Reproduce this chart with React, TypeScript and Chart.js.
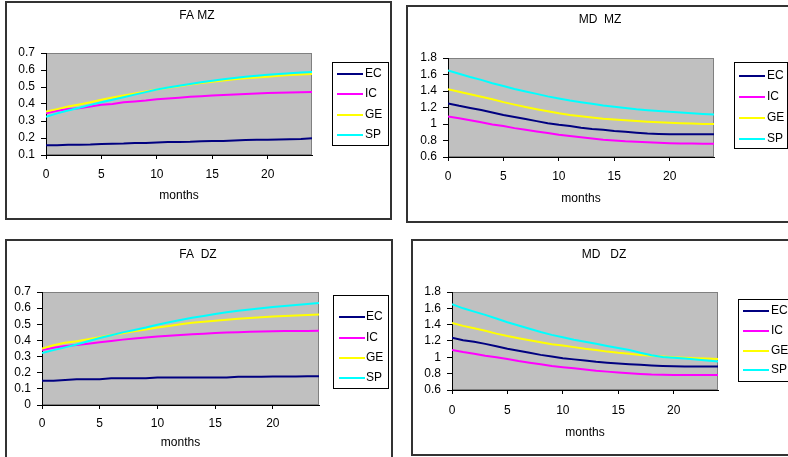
import React, { useEffect, useRef } from "react";
import { Chart, registerables } from "chart.js";

Chart.register(...registerables);

// ---------- data ----------
const months = [0, 1, 2, 3, 4, 5, 6, 7, 8, 9, 10, 11, 12, 13, 14, 15, 16, 17, 18, 19, 20, 21, 22, 23, 24];
const seriesNames = ["EC", "IC", "GE", "SP"];
const seriesColors = ["#000080", "#ff00ff", "#ffff00", "#00ffff"];
const panelTitles = ["FA MZ", "MD  MZ", "FA  DZ", "MD   DZ"];
const axisTitle = "months";

// FA MZ
const faMzEC = [0.157, 0.157, 0.16, 0.161, 0.162, 0.165, 0.166, 0.167, 0.17, 0.171, 0.173, 0.176, 0.177, 0.178, 0.181, 0.182, 0.183, 0.185, 0.188, 0.189, 0.19, 0.191, 0.192, 0.194, 0.199];
const faMzIC = [0.345, 0.36, 0.37, 0.375, 0.385, 0.395, 0.4, 0.41, 0.415, 0.42, 0.428, 0.433, 0.437, 0.442, 0.446, 0.45, 0.453, 0.456, 0.459, 0.462, 0.464, 0.466, 0.468, 0.469, 0.47];
const faMzGE = [0.355, 0.37, 0.385, 0.397, 0.41, 0.425, 0.438, 0.45, 0.462, 0.473, 0.485, 0.495, 0.505, 0.514, 0.523, 0.531, 0.538, 0.545, 0.551, 0.556, 0.561, 0.566, 0.57, 0.573, 0.576];
const faMzSP = [0.325, 0.345, 0.362, 0.378, 0.395, 0.41, 0.425, 0.44, 0.455, 0.47, 0.485, 0.497, 0.508, 0.518, 0.528, 0.537, 0.545, 0.553, 0.56, 0.566, 0.572, 0.577, 0.581, 0.585, 0.588];

// MD MZ
const mdMzEC = [1.25, 1.22, 1.195, 1.17, 1.14, 1.11, 1.085, 1.06, 1.035, 1.01, 0.99, 0.975, 0.955, 0.94, 0.93, 0.915, 0.905, 0.895, 0.885, 0.88, 0.875, 0.875, 0.875, 0.875, 0.875];
const mdMzIC = [1.09, 1.07, 1.045, 1.02, 0.995, 0.975, 0.95, 0.93, 0.91, 0.89, 0.87, 0.855, 0.84, 0.825, 0.81, 0.8, 0.79, 0.785, 0.778, 0.772, 0.768, 0.765, 0.763, 0.762, 0.76];
const mdMzGE = [1.42, 1.39, 1.36, 1.33, 1.3, 1.265, 1.235, 1.205, 1.18, 1.155, 1.13, 1.11, 1.095, 1.08, 1.065, 1.055, 1.045, 1.035, 1.027, 1.02, 1.015, 1.01, 1.005, 1.0, 1.0];
const mdMzSP = [1.65, 1.61, 1.57, 1.535, 1.495, 1.46, 1.425, 1.395, 1.365, 1.335, 1.31, 1.285, 1.265, 1.245, 1.225, 1.21, 1.195, 1.18, 1.168, 1.158, 1.148, 1.14, 1.13, 1.122, 1.115];

// FA DZ
const faDzEC = [0.15, 0.15, 0.155, 0.16, 0.16, 0.16, 0.165, 0.165, 0.165, 0.165, 0.17, 0.17, 0.17, 0.17, 0.17, 0.17, 0.17, 0.175, 0.175, 0.175, 0.176, 0.176, 0.177, 0.178, 0.178];
const faDzIC = [0.34, 0.355, 0.365, 0.372, 0.38, 0.388, 0.397, 0.405, 0.412, 0.418, 0.424, 0.429, 0.434, 0.438, 0.442, 0.446, 0.449, 0.451, 0.453, 0.455, 0.457, 0.458, 0.458, 0.459, 0.46];
const faDzGE = [0.35, 0.37, 0.385, 0.395, 0.408, 0.42, 0.433, 0.445, 0.457, 0.468, 0.48, 0.49, 0.5, 0.509, 0.516, 0.522, 0.528, 0.534, 0.539, 0.544, 0.548, 0.552, 0.555, 0.558, 0.56];
const faDzSP = [0.322, 0.34, 0.357, 0.375, 0.395, 0.415, 0.432, 0.45, 0.465, 0.48, 0.497, 0.512, 0.526, 0.54, 0.552, 0.564, 0.574, 0.584, 0.592, 0.6, 0.607, 0.614, 0.62, 0.626, 0.632];

// MD DZ
const mdDzEC = [1.24, 1.21, 1.19, 1.165, 1.135, 1.105, 1.08, 1.055, 1.03, 1.01, 0.99, 0.975, 0.96, 0.945, 0.935, 0.925, 0.915, 0.908, 0.9, 0.895, 0.89, 0.888, 0.887, 0.887, 0.887];
const mdDzIC = [1.09, 1.065, 1.045, 1.02, 1.0, 0.98, 0.955, 0.935, 0.915, 0.895, 0.88, 0.865, 0.85, 0.835, 0.825, 0.815, 0.805, 0.797, 0.79, 0.787, 0.785, 0.785, 0.785, 0.785, 0.785];
const mdDzGE = [1.42, 1.385, 1.355, 1.325, 1.29, 1.26, 1.235, 1.21, 1.185, 1.16, 1.145, 1.125, 1.105, 1.09, 1.07, 1.055, 1.045, 1.03, 1.02, 1.01, 1.0, 0.995, 0.99, 0.985, 0.98];
const mdDzSP = [1.65, 1.6, 1.56, 1.52, 1.475, 1.43, 1.39, 1.35, 1.31, 1.275, 1.245, 1.215, 1.19, 1.165, 1.14, 1.115, 1.09, 1.055, 1.025, 1.005, 0.995, 0.985, 0.972, 0.96, 0.95];

const faYRange = [0.1, 0.7, 0.1];
const faDzYRange = [0, 0.7, 0.1];
const mdYRange = [0.6, 1.8, 0.2];
const xRange = [0, 24, 5];

// ---------- layout ----------
const BORDER = 2;
const FONT = "'Liberation Sans', Arial, Helvetica, sans-serif";
const FONT_SIZE = 12;

type Box = { left: number; top: number; width: number; height: number };
type PanelCfg = {
  title: string;
  series: number[][];
  yRange: number[];
  box: Box;
  pad: { left: number; right: number; top: number; bottom: number };
  yAxisWidth: number;
  xTickPad: number;
  xTitlePad: number;
  titlePos: [number, number]; // page coords
  legend: { x: number; y: number; w: number; h: number; y0: number; dy: number; l0: number; l1: number; tx: number }; // page coords
};

const panels: PanelCfg[] = [
  {
    title: panelTitles[0],
    series: [faMzEC, faMzIC, faMzGE, faMzSP],
    yRange: faYRange,
    box: { left: 5, top: 1, width: 387, height: 219 },
    pad: { left: 4, right: 78, top: 50, bottom: 13 },
    yAxisWidth: 35,
    xTickPad: 8.9,
    xTitlePad: 2.2,
    titlePos: [197, 16],
    legend: { x: 332, y: 62, w: 56, h: 83, y0: 73.5, dy: 20.6, l0: 337, l1: 363, tx: 365 },
  },
  {
    title: panelTitles[1],
    series: [mdMzEC, mdMzIC, mdMzGE, mdMzSP],
    yRange: mdYRange,
    box: { left: 406, top: 5, width: 400, height: 218 },
    pad: { left: 5, right: 90, top: 51, bottom: 14 },
    yAxisWidth: 35,
    xTickPad: 8,
    xTitlePad: 0.9,
    titlePos: [600, 20],
    legend: { x: 734, y: 62, w: 53, h: 86, y0: 75.5, dy: 21, l0: 739, l1: 765, tx: 767 },
  },
  {
    title: panelTitles[2],
    series: [faDzEC, faDzIC, faDzGE, faDzSP],
    yRange: faDzYRange,
    box: { left: 5, top: 239, width: 388, height: 240 },
    pad: { left: 5, right: 72, top: 51, bottom: 22 },
    yAxisWidth: 30,
    xTickPad: 7.7,
    xTitlePad: 4.9,
    titlePos: [198, 254.5],
    legend: { x: 333, y: 295, w: 55, h: 93, y0: 317.3, dy: 20.2, l0: 339, l1: 365, tx: 366 },
  },
  {
    title: panelTitles[3],
    series: [mdDzEC, mdDzIC, mdDzGE, mdDzSP],
    yRange: mdYRange,
    box: { left: 411, top: 239, width: 400, height: 217 },
    pad: { left: 4, right: 91, top: 51, bottom: 14 },
    yAxisWidth: 35,
    xTickPad: 9.3,
    xTitlePad: 0,
    titlePos: [604, 254.5],
    legend: { x: 738, y: 299, w: 56, h: 82, y0: 311, dy: 19.8, l0: 743, l1: 769, tx: 771 },
  },
];

const decorPlugin = {
  id: "decor",
  beforeDraw(chart: any, _args: any, opts: any) {
    const { ctx, chartArea: a } = chart;
    ctx.save();
    ctx.fillStyle = "#c0c0c0";
    ctx.fillRect(a.left, a.top, a.right - a.left, a.bottom - a.top);
    ctx.strokeStyle = "#808080";
    ctx.lineWidth = 1;
    ctx.strokeRect(a.left + 0.5, a.top + 0.5, a.right - a.left - 1, a.bottom - a.top - 1);
    ctx.restore();
  },
  afterDraw(chart: any, _args: any, opts: any) {
    const ctx = chart.ctx;
    ctx.save();
    ctx.fillStyle = "#000";
    ctx.font = `${FONT_SIZE}px ${FONT}`;
    ctx.textAlign = "center";
    ctx.textBaseline = "middle";
    ctx.fillText(opts.title, opts.tx, opts.ty);
    const L = opts.legend;
    ctx.strokeStyle = "#000";
    ctx.lineWidth = 1;
    ctx.strokeRect(Math.round(L.x) + 0.5, Math.round(L.y) + 0.5, L.w, L.h);
    ctx.textAlign = "left";
    chart.data.datasets.forEach((ds: any, i: number) => {
      const y = Math.round(L.y0 + i * L.dy);
      ctx.strokeStyle = ds.borderColor;
      ctx.lineWidth = 2;
      ctx.beginPath();
      ctx.moveTo(L.l0, y);
      ctx.lineTo(L.l1, y);
      ctx.stroke();
      ctx.fillStyle = "#000";
      ctx.fillText(ds.label, L.tx, y);
    });
    ctx.restore();
  },
};

function Panel({ cfg }: { cfg: PanelCfg }) {
  const ref = useRef<HTMLCanvasElement>(null);
  const W = cfg.box.width - 2 * BORDER;
  const H = cfg.box.height - 2 * BORDER;
  const ox = cfg.box.left + BORDER;
  const oy = cfg.box.top + BORDER;

  useEffect(() => {
    const canvas = ref.current;
    if (!canvas) return;
    const L = cfg.legend;
    const tickFont = { family: FONT, size: FONT_SIZE };
    const chart = new Chart(canvas, {
      type: "line",
      data: {
        datasets: cfg.series.map((vals, i) => ({
          label: seriesNames[i],
          data: months.map((m, j) => ({ x: m, y: vals[j] })),
          borderColor: seriesColors[i],
          backgroundColor: seriesColors[i],
          borderWidth: 2,
          pointRadius: 0,
          tension: 0,
          fill: false,
          order: seriesNames.length - i,
        })),
      },
      options: {
        responsive: false,
        maintainAspectRatio: false,
        animation: false,
        devicePixelRatio: 1,
        events: [],
        layout: { padding: cfg.pad },
        plugins: {
          legend: { display: false },
          title: { display: false },
          tooltip: { enabled: false },
          decor: {
            title: cfg.title,
            tx: cfg.titlePos[0] - ox,
            ty: cfg.titlePos[1] - oy,
            legend: {
              x: L.x - ox, y: L.y - oy, w: L.w, h: L.h,
              y0: L.y0 - oy, dy: L.dy,
              l0: L.l0 - ox, l1: L.l1 - ox, tx: L.tx - ox,
            },
          },
        } as any,
        scales: {
          x: {
            type: "linear",
            min: xRange[0],
            max: xRange[1],
            afterFit: (s: any) => { s.height = 50; },
            ticks: {
              stepSize: xRange[2],
              includeBounds: false,
              autoSkip: false,
              maxRotation: 0,
              padding: cfg.xTickPad,
              color: "#000",
              font: tickFont,
            },
            grid: { display: true, drawOnChartArea: false, drawTicks: true, tickLength: 4, tickColor: "#000", color: "#000" },
            border: { display: true, color: "#000", width: 1 },
            title: {
              display: true,
              text: axisTitle,
              color: "#000",
              font: tickFont,
              padding: { top: 0, bottom: cfg.xTitlePad },
            },
          },
          y: {
            type: "linear",
            min: cfg.yRange[0],
            max: cfg.yRange[1],
            afterFit: (s: any) => { s.width = cfg.yAxisWidth; },
            ticks: {
              stepSize: cfg.yRange[2],
              autoSkip: false,
              padding: 6,
              color: "#000",
              font: tickFont,
              callback: (v: any) => String(Number(Number(v).toFixed(2))),
            },
            grid: { display: true, drawOnChartArea: false, drawTicks: true, tickLength: 5, tickColor: "#000", color: "#000" },
            border: { display: true, color: "#000", width: 1 },
          },
        } as any,
      },
      plugins: [decorPlugin as any],
    });
    return () => chart.destroy();
  }, []);

  return (
    <div
      style={{
        position: "absolute",
        left: cfg.box.left,
        top: cfg.box.top,
        width: cfg.box.width,
        height: cfg.box.height,
        border: `${BORDER}px solid #333`,
        boxSizing: "border-box",
        background: "#fff",
      }}
    >
      <canvas ref={ref} width={W} height={H} style={{ display: "block", width: W, height: H }} />
    </div>
  );
}

export default function App() {
  return (
    <div
      style={{
        position: "absolute",
        left: 0,
        top: 0,
        width: 788,
        height: 457,
        overflow: "hidden",
        background: "#fff",
      }}
    >
      {panels.map((p, i) => (
        <Panel key={i} cfg={p} />
      ))}
    </div>
  );
}
